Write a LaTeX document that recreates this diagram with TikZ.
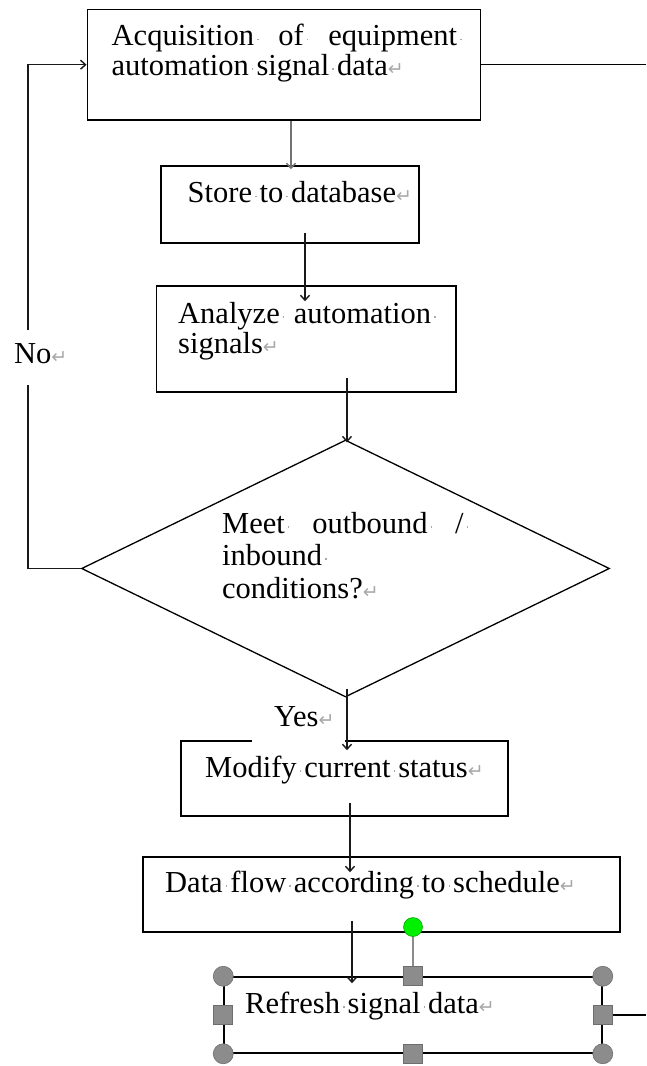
\documentclass[tikz,border=0pt]{standalone}
\usepackage{fontspec}
\setmainfont{Liberation Serif}
\newfontfamily\symfont{DejaVu Sans}
\usetikzlibrary{arrows.meta,shapes.geometric}
\definecolor{markgray}{HTML}{A8A8A8}
\definecolor{handlegray}{HTML}{8C8C8C}
\definecolor{handleedge}{HTML}{6E6E6E}
\definecolor{selgreen}{HTML}{00F000}
\newcommand\ret{\textcolor{markgray}{\fontsize{19}{19}\selectfont\symfont ↵}}
\newcommand\sd{\hbox to 0.25em{\hss\textcolor{markgray}{\rule[0.17em]{1.5pt}{1.5pt}}\hss}}
\tikzset{
  box/.style={draw=black, line width=1.5pt, inner sep=0pt, fill=none},
  dia/.style={draw=black, line width=1.3pt, shape=diamond, inner sep=0pt},
  txt/.style={anchor=base west, inner sep=0pt, font=\rmfamily\fontsize{30.5}{33}\selectfont},
  arr/.style={line width=1.5pt, draw=black!90, -{Straight Barb[length=5pt,width=9pt,line width=1.4pt]}},
  plain/.style={line width=1.5pt, draw=black},
  circhandle/.style={circle, fill=handlegray, draw=handleedge, line width=0.6pt, minimum size=20pt, inner sep=0pt},
  sqhandle/.style={rectangle, fill=handlegray, draw=handleedge, line width=0.6pt, minimum size=19pt, inner sep=0pt},
}
\begin{document}
\begin{tikzpicture}[x=1pt,y=-1pt]
\useasboundingbox (0,0) rectangle (646,1066);
\coordinate (r1) at (646,0);
\coordinate (lx) at (28,300);

% boxes
\node[box, minimum width=393.4pt, minimum height=110.7pt] (b1) at (284,64.7) {};
\node[box, minimum width=258pt, minimum height=77pt] (b2) at (290,204.5) {};
\node[box, minimum width=299.4pt, minimum height=106pt] (b3) at (306.3,339) {};
\node[dia, minimum width=528pt, minimum height=257pt] (d) at (345.5,568.5) {};
\node[box, minimum width=327pt, minimum height=75pt] (b4) at (344.5,778.5) {};
\node[box, minimum width=477pt, minimum height=75pt] (b5) at (381.5,894.5) {};
\node[box, minimum width=378pt, minimum height=76pt] (b6) at (413,1015) {};

% texts
\node[txt] (t1a) at (111.5,45.5) {\hbox to 353pt{Acquisition\sd\hfill of\sd\hfill equipment\sd}};
\node[txt] (t1b) at (111.5,75) {automation\sd signal\sd data\ret};
\node[txt] (t2) at (187.5,202.5) {Store\sd to\sd database\ret};
\node[txt] (t3a) at (178,323) {\hbox to 260.6pt{Analyze\sd\hfill automation\sd}};
\node[txt] (t3b) at (178,353) {signals\ret};
\node[txt] (t4a) at (222,533) {\hbox to 249pt{Meet\sd\hfill outbound\sd\hfill /\sd}};
\node[txt] (t4b) at (222,565) {inbound\sd};
\node[txt] (t4c) at (222,598) {conditions?\ret};
\node[txt] (t5) at (205,777) {Modify\sd current\sd status\ret};
\node[txt] (t6) at (165,892) {Data\sd flow\sd according\sd to\sd schedule\ret};
\node[txt] (t7) at (245,1013) {Refresh\sd signal\sd data\ret};

% connectors
\draw[arr, draw=black!55] ([xshift=7pt]b1.south) -- ([xshift=1pt,yshift=-4pt]b2.north);
\draw[arr] ([xshift=15pt,yshift=11pt]b2.south) -- ([xshift=-1.3pt,yshift=-16pt]b3.north);
\draw[arr] ([xshift=40.7pt,yshift=15pt]b3.south) -- ([xshift=1.5pt,yshift=-3pt]d.north);

% No loop
\draw[arr] (d.west) -| (lx) |- (b1.west);
\fill[white] (20,330) rectangle (36,385);
\node[txt] (no) at (14,363) {No\ret};

% right stubs
\draw[plain] (b1.east) -- (b1.east -| r1);

% Yes label (white background covers part of the box top)
\fill[white] (252,702) rectangle (345,745);
\node[txt] (yes) at (274,726) {Yes\ret};
\draw[arr] ([xshift=1.5pt,yshift=9pt]d.south) -- ([xshift=2.5pt,yshift=-10pt]b4.north);

\draw[arr] ([xshift=5.5pt,yshift=14pt]b4.south) -- ([xshift=-31.5pt,yshift=-16pt]b5.north);
\draw[arr] ([xshift=-29.5pt,yshift=12pt]b5.south) -- ([xshift=-61pt,yshift=-7pt]b6.north);

% selection handles of the last box
\draw[plain] (b6.east) -- (b6.east -| r1);
\coordinate (gdot) at (413,927);
\draw[line width=1.2pt, draw=handlegray] (gdot) -- (b6.north);
\node[circle, fill=selgreen, draw=green!60!black, line width=0.5pt, minimum size=19pt, inner sep=0pt] (g) at (gdot) {};
\node[circhandle] (h1) at (b6.north west) {};
\node[circhandle] (h2) at (b6.north east) {};
\node[circhandle] (h3) at (b6.south west) {};
\node[circhandle] (h4) at (b6.south east) {};
\node[sqhandle] (h5) at (b6.north) {};
\node[sqhandle] (h6) at (b6.south) {};
\node[sqhandle] (h7) at (b6.west) {};
\node[sqhandle] (h8) at (b6.east) {};
\end{tikzpicture}
\end{document}
